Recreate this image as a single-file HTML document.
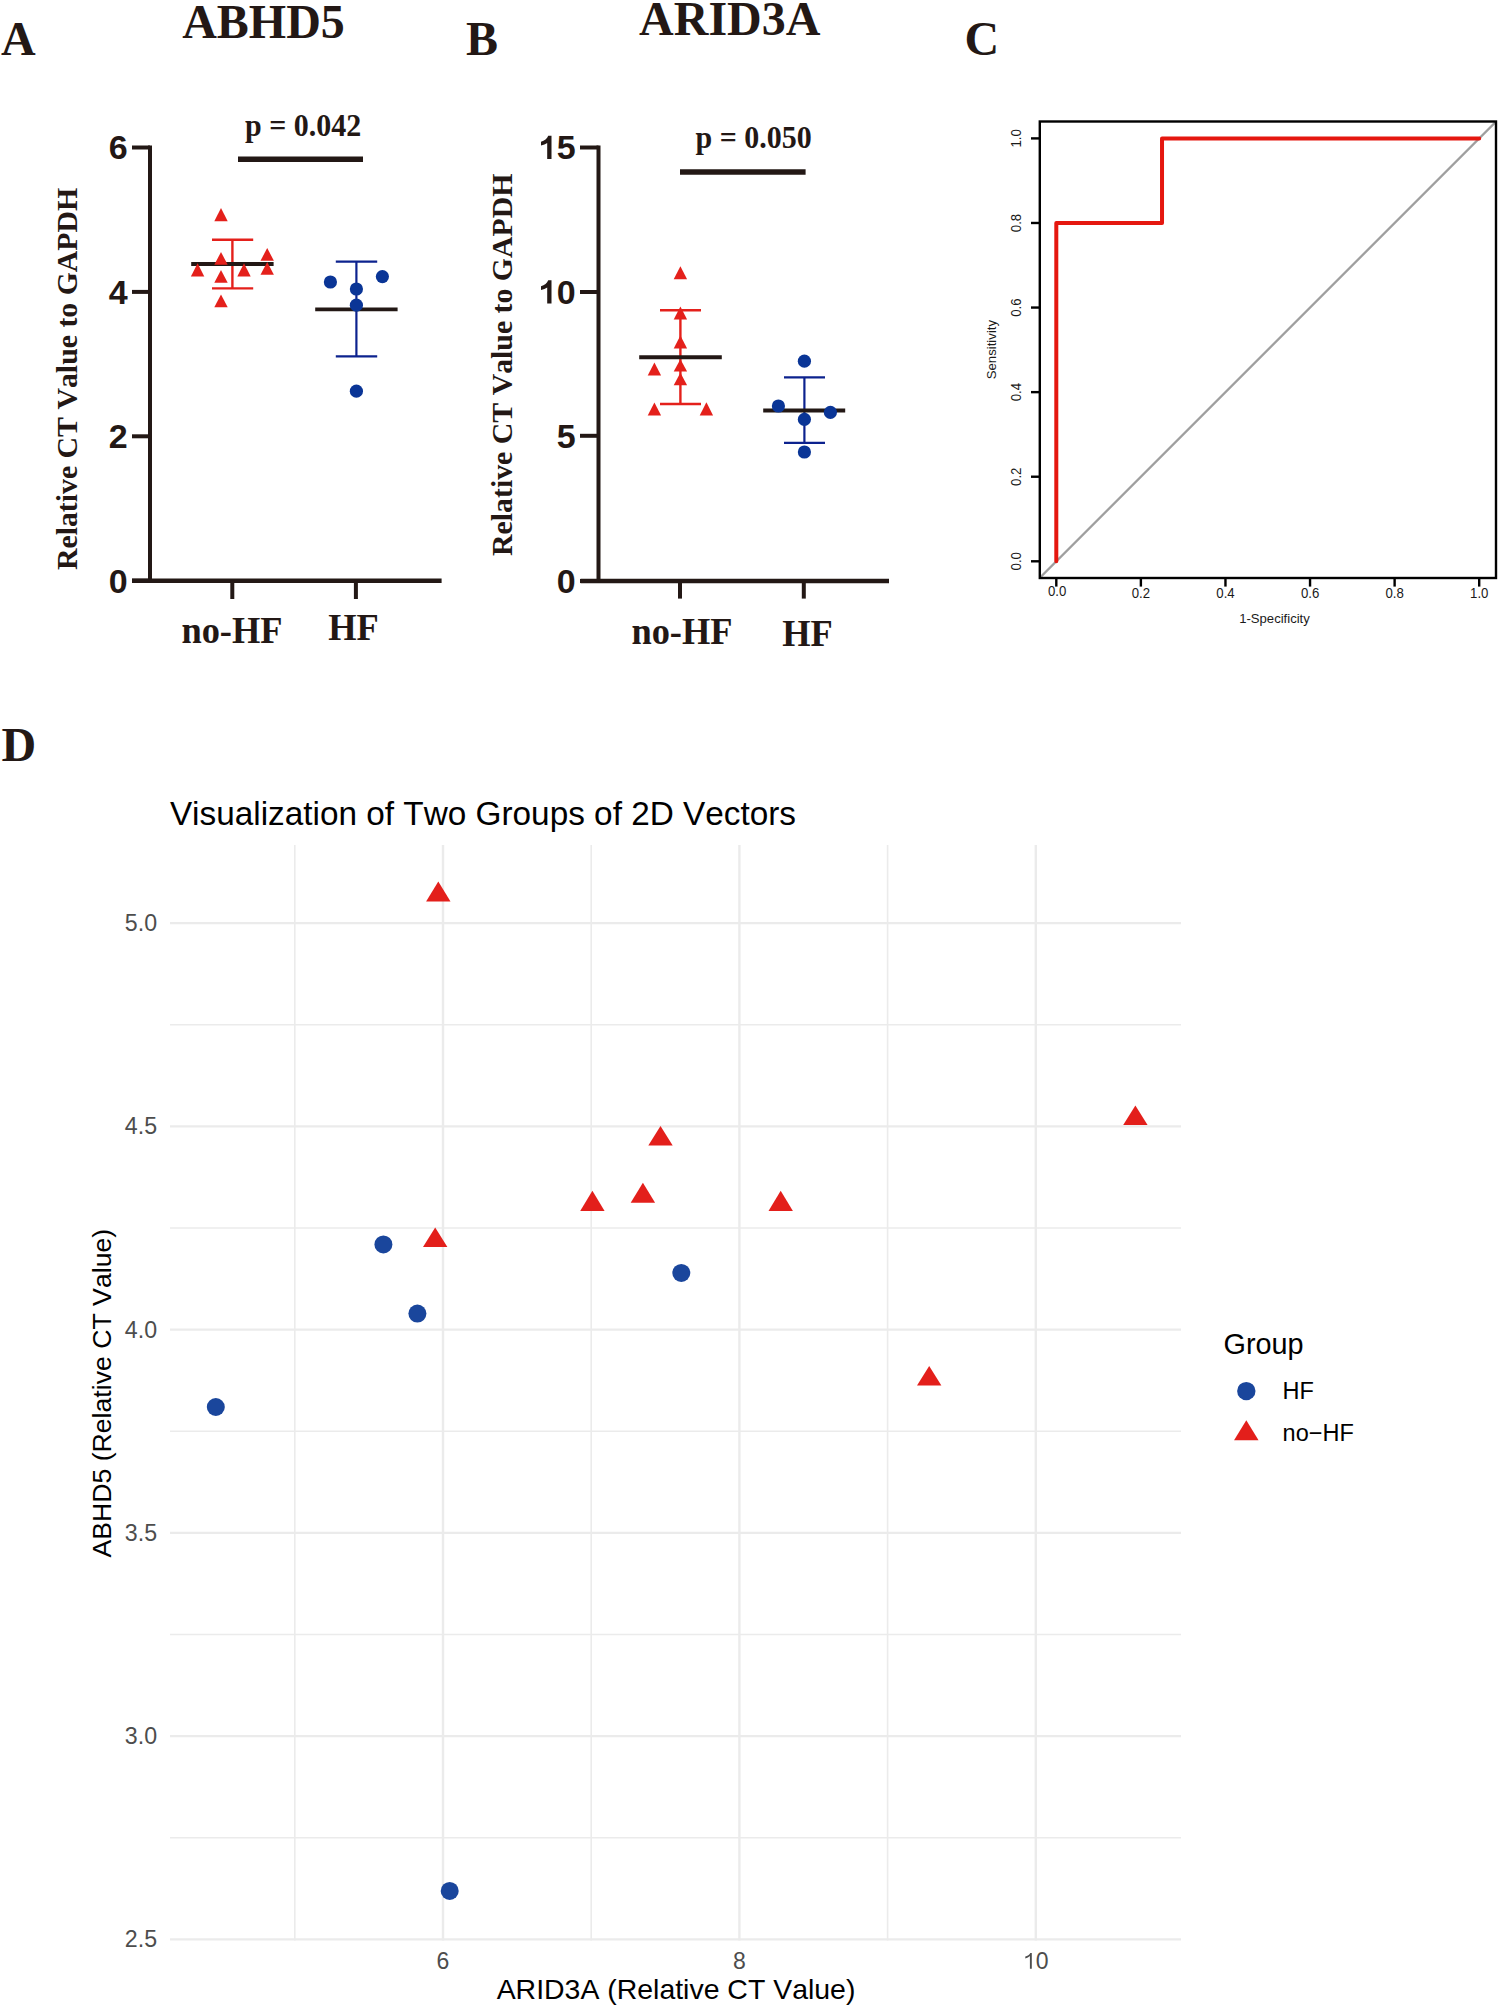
<!DOCTYPE html>
<html><head><meta charset="utf-8"><title>Figure</title>
<style>
html,body{margin:0;padding:0;background:#fff;}
body{width:1500px;height:2008px;overflow:hidden;font-family:"Liberation Sans",sans-serif;}
svg{display:block;}
text{font-kerning:none;}
</style></head>
<body>
<svg width="1500" height="2008" viewBox="0 0 1500 2008">
<rect width="1500" height="2008" fill="#fff"/>
<text x="1.1" y="55" font-family="'Liberation Serif', serif" font-size="48" font-weight="bold" text-anchor="start" fill="#231815">A</text>
<text x="466.1" y="55" font-family="'Liberation Serif', serif" font-size="48" font-weight="bold" text-anchor="start" fill="#231815">B</text>
<text x="964.4" y="55.3" font-family="'Liberation Serif', serif" font-size="48" font-weight="bold" text-anchor="start" fill="#231815">C</text>
<text x="1.6" y="761" font-family="'Liberation Serif', serif" font-size="48" font-weight="bold" text-anchor="start" fill="#231815">D</text>
<text x="182.2" y="37.6" font-family="'Liberation Serif', serif" font-size="48" font-weight="bold" text-anchor="start" fill="#231815">ABHD5</text>
<line x1="150" y1="145.5" x2="150" y2="583" stroke="#231815" stroke-width="4" stroke-linecap="butt"/>
<line x1="132" y1="580.8" x2="441.6" y2="580.8" stroke="#231815" stroke-width="4.4" stroke-linecap="butt"/>
<line x1="132" y1="147.5" x2="150" y2="147.5" stroke="#231815" stroke-width="4" stroke-linecap="butt"/>
<line x1="132" y1="291.9" x2="150" y2="291.9" stroke="#231815" stroke-width="4" stroke-linecap="butt"/>
<line x1="132" y1="436.3" x2="150" y2="436.3" stroke="#231815" stroke-width="4" stroke-linecap="butt"/>
<line x1="132" y1="580.7" x2="150" y2="580.7" stroke="#231815" stroke-width="4" stroke-linecap="butt"/>
<line x1="232.3" y1="580.8" x2="232.3" y2="599" stroke="#231815" stroke-width="4" stroke-linecap="butt"/>
<line x1="355.9" y1="580.8" x2="355.9" y2="599" stroke="#231815" stroke-width="4" stroke-linecap="butt"/>
<text x="127.6" y="159.3" font-family="'Liberation Sans', sans-serif" font-size="34" font-weight="bold" text-anchor="end" fill="#231815">6</text>
<text x="127.6" y="303.7" font-family="'Liberation Sans', sans-serif" font-size="34" font-weight="bold" text-anchor="end" fill="#231815">4</text>
<text x="127.6" y="448.1" font-family="'Liberation Sans', sans-serif" font-size="34" font-weight="bold" text-anchor="end" fill="#231815">2</text>
<text x="127.6" y="592.5" font-family="'Liberation Sans', sans-serif" font-size="34" font-weight="bold" text-anchor="end" fill="#231815">0</text>
<text transform="translate(245.1 135.5) scale(1 1.04)" font-family="'Liberation Serif', serif" font-size="30" font-weight="bold" text-anchor="start" fill="#231815">p = 0.042</text>
<line x1="238" y1="159.3" x2="363" y2="159.3" stroke="#231815" stroke-width="5.5" stroke-linecap="butt"/>
<text transform="translate(181.4 642.5) scale(1 1.03)" font-family="'Liberation Serif', serif" font-size="36.4" font-weight="bold" text-anchor="start" fill="#231815">no-HF</text>
<text transform="translate(328.2 639.8) scale(1 1.03)" font-family="'Liberation Serif', serif" font-size="36.4" font-weight="bold" text-anchor="start" fill="#231815">HF</text>
<text transform="translate(77.2 570.1) rotate(-90)" font-family="'Liberation Serif', serif" font-size="29.8" font-weight="bold" text-anchor="start" fill="#231815">Relative CT Value to GAPDH</text>
<line x1="232.4" y1="239.8" x2="232.4" y2="288.4" stroke="#e4201b" stroke-width="2.4" stroke-linecap="butt"/>
<line x1="212" y1="239.8" x2="253.2" y2="239.8" stroke="#e4201b" stroke-width="2.4" stroke-linecap="butt"/>
<line x1="212" y1="288.4" x2="253.2" y2="288.4" stroke="#e4201b" stroke-width="2.4" stroke-linecap="butt"/>
<line x1="191.2" y1="264" x2="273.6" y2="264" stroke="#231815" stroke-width="4" stroke-linecap="butt"/>
<path d="M221 208L227.7 221.2L214.3 221.2Z" fill="#e4201b"/>
<path d="M221 252L227.7 264.8L214.3 264.8Z" fill="#e4201b"/>
<path d="M197.6 263.2L204.3 276.4L190.9 276.4Z" fill="#e4201b"/>
<path d="M221 270L227.7 282.8L214.3 282.8Z" fill="#e4201b"/>
<path d="M244 263.2L250.7 276.4L237.3 276.4Z" fill="#e4201b"/>
<path d="M267.2 248L273.9 260.8L260.5 260.8Z" fill="#e4201b"/>
<path d="M267.2 262L273.9 274.8L260.5 274.8Z" fill="#e4201b"/>
<path d="M221 294.4L227.7 307.2L214.3 307.2Z" fill="#e4201b"/>
<line x1="356.4" y1="261.6" x2="356.4" y2="356.4" stroke="#0c228e" stroke-width="2.2" stroke-linecap="butt"/>
<line x1="335.8" y1="261.6" x2="377.2" y2="261.6" stroke="#0c228e" stroke-width="2.2" stroke-linecap="butt"/>
<line x1="335.8" y1="356.4" x2="377.2" y2="356.4" stroke="#0c228e" stroke-width="2.2" stroke-linecap="butt"/>
<line x1="315.2" y1="309.3" x2="397.6" y2="309.3" stroke="#231815" stroke-width="3.8" stroke-linecap="butt"/>
<circle cx="330.4" cy="282" r="6.6" fill="#0a3596"/>
<circle cx="356.4" cy="289" r="6.6" fill="#0a3596"/>
<circle cx="356.4" cy="305.2" r="6.6" fill="#0a3596"/>
<circle cx="382.4" cy="276.6" r="6.6" fill="#0a3596"/>
<circle cx="356.4" cy="391.2" r="6.6" fill="#0a3596"/>
<text x="639.1" y="34.6" font-family="'Liberation Serif', serif" font-size="48" font-weight="bold" text-anchor="start" fill="#231815">ARID3A</text>
<line x1="598.5" y1="145.5" x2="598.5" y2="583" stroke="#231815" stroke-width="4" stroke-linecap="butt"/>
<line x1="580.6" y1="581" x2="889" y2="581" stroke="#231815" stroke-width="4.4" stroke-linecap="butt"/>
<line x1="580" y1="147.5" x2="598.5" y2="147.5" stroke="#231815" stroke-width="4" stroke-linecap="butt"/>
<line x1="580" y1="292" x2="598.5" y2="292" stroke="#231815" stroke-width="4" stroke-linecap="butt"/>
<line x1="580" y1="435.8" x2="598.5" y2="435.8" stroke="#231815" stroke-width="4" stroke-linecap="butt"/>
<line x1="580" y1="581" x2="598.5" y2="581" stroke="#231815" stroke-width="4" stroke-linecap="butt"/>
<line x1="680" y1="581" x2="680" y2="598.6" stroke="#231815" stroke-width="4" stroke-linecap="butt"/>
<line x1="803.8" y1="581" x2="803.8" y2="598.6" stroke="#231815" stroke-width="4" stroke-linecap="butt"/>
<text x="575.6" y="159.3" font-family="'Liberation Sans', sans-serif" font-size="34" font-weight="bold" text-anchor="end" fill="#231815">5</text>
<path d="M551.5 159.1V135.7H548.2C547.2 138.5 544.5 140.7 541 141.8V145.5C543.4 144.9 545.6 144 547.2 142.9V159.1Z" fill="#231815"/>
<text x="575.6" y="303.8" font-family="'Liberation Sans', sans-serif" font-size="34" font-weight="bold" text-anchor="end" fill="#231815">0</text>
<path d="M551.5 303.6V280.2H548.2C547.2 283 544.5 285.2 541 286.3V290C543.4 289.4 545.6 288.5 547.2 287.4V303.6Z" fill="#231815"/>
<text x="575.6" y="447.6" font-family="'Liberation Sans', sans-serif" font-size="34" font-weight="bold" text-anchor="end" fill="#231815">5</text>
<text x="575.6" y="592.8" font-family="'Liberation Sans', sans-serif" font-size="34" font-weight="bold" text-anchor="end" fill="#231815">0</text>
<text transform="translate(695.6 148) scale(1 1.04)" font-family="'Liberation Serif', serif" font-size="30" font-weight="bold" text-anchor="start" fill="#231815">p = 0.050</text>
<line x1="680" y1="172" x2="805.6" y2="172" stroke="#231815" stroke-width="5.5" stroke-linecap="butt"/>
<text transform="translate(631.4 644.2) scale(1 1.03)" font-family="'Liberation Serif', serif" font-size="36.4" font-weight="bold" text-anchor="start" fill="#231815">no-HF</text>
<text transform="translate(782.2 646.2) scale(1 1.03)" font-family="'Liberation Serif', serif" font-size="36.4" font-weight="bold" text-anchor="start" fill="#231815">HF</text>
<text transform="translate(511.5 555.9) rotate(-90)" font-family="'Liberation Serif', serif" font-size="29.8" font-weight="bold" text-anchor="start" fill="#231815">Relative CT Value to GAPDH</text>
<line x1="680.4" y1="310.2" x2="680.4" y2="404" stroke="#e4201b" stroke-width="2.4" stroke-linecap="butt"/>
<line x1="660" y1="310.2" x2="701" y2="310.2" stroke="#e4201b" stroke-width="2.4" stroke-linecap="butt"/>
<line x1="660" y1="404" x2="701" y2="404" stroke="#e4201b" stroke-width="2.4" stroke-linecap="butt"/>
<line x1="639.2" y1="357.2" x2="721.8" y2="357.2" stroke="#231815" stroke-width="4" stroke-linecap="butt"/>
<path d="M680.4 266.2L687.1 279.2L673.7 279.2Z" fill="#e4201b"/>
<path d="M680.4 306.4L687.1 319.4L673.7 319.4Z" fill="#e4201b"/>
<path d="M680.4 335.5L687.1 348.4L673.7 348.4Z" fill="#e4201b"/>
<path d="M680.4 359.2L687.1 371.6L673.7 371.6Z" fill="#e4201b"/>
<path d="M654.4 362.4L661.1 375.4L647.7 375.4Z" fill="#e4201b"/>
<path d="M680.4 372.8L687.1 385.2L673.7 385.2Z" fill="#e4201b"/>
<path d="M654.4 402.4L661.1 415.6L647.7 415.6Z" fill="#e4201b"/>
<path d="M706.4 402.2L713.1 415.6L699.7 415.6Z" fill="#e4201b"/>
<line x1="804.4" y1="377.4" x2="804.4" y2="442.8" stroke="#0c228e" stroke-width="2.2" stroke-linecap="butt"/>
<line x1="784" y1="377.4" x2="825" y2="377.4" stroke="#0c228e" stroke-width="2.2" stroke-linecap="butt"/>
<line x1="784" y1="442.8" x2="825" y2="442.8" stroke="#0c228e" stroke-width="2.2" stroke-linecap="butt"/>
<line x1="763.2" y1="410.4" x2="845.2" y2="410.4" stroke="#231815" stroke-width="4" stroke-linecap="butt"/>
<circle cx="804.4" cy="361.2" r="6.6" fill="#0a3596"/>
<circle cx="778.4" cy="406" r="6.6" fill="#0a3596"/>
<circle cx="830.4" cy="412.4" r="6.6" fill="#0a3596"/>
<circle cx="804.4" cy="419.4" r="6.6" fill="#0a3596"/>
<circle cx="804.4" cy="452" r="6.6" fill="#0a3596"/>
<clipPath id="cb"><rect x="1039.8" y="121.5" width="456.2" height="456.5"/></clipPath>
<line x1="1014.01" y1="603.59" x2="1521.49" y2="96.11" stroke="#9f9f9f" stroke-width="2.3" clip-path="url(#cb)"/>
<path d="M1056.3 561.3V222.98H1162.02V138.4H1479.2" fill="none" stroke="#e5170f" stroke-width="4" stroke-linecap="round" stroke-linejoin="round"/>
<rect x="1039.8" y="121.5" width="456.2" height="456.5" fill="none" stroke="#000" stroke-width="2.4"/>
<line x1="1031" y1="561.3" x2="1039.8" y2="561.3" stroke="#000" stroke-width="2.4" stroke-linecap="butt"/>
<line x1="1056.3" y1="578" x2="1056.3" y2="586.6" stroke="#000" stroke-width="2.4" stroke-linecap="butt"/>
<text transform="translate(1057.1 596.4) scale(1 1.07)" font-family="'Liberation Sans', sans-serif" font-size="13.2" font-weight="normal" text-anchor="middle" fill="#1a1a1a">0.0</text>
<text transform="translate(1021.3 561.3) rotate(-90) scale(1 1.07)" font-family="'Liberation Sans', sans-serif" font-size="13.2" text-anchor="middle" fill="#1a1a1a">0.0</text>
<line x1="1031" y1="476.72" x2="1039.8" y2="476.72" stroke="#000" stroke-width="2.4" stroke-linecap="butt"/>
<line x1="1140.88" y1="578" x2="1140.88" y2="586.6" stroke="#000" stroke-width="2.4" stroke-linecap="butt"/>
<text transform="translate(1140.88 598) scale(1 1.07)" font-family="'Liberation Sans', sans-serif" font-size="13.2" font-weight="normal" text-anchor="middle" fill="#1a1a1a">0.2</text>
<text transform="translate(1021.3 476.72) rotate(-90) scale(1 1.07)" font-family="'Liberation Sans', sans-serif" font-size="13.2" text-anchor="middle" fill="#1a1a1a">0.2</text>
<line x1="1031" y1="392.14" x2="1039.8" y2="392.14" stroke="#000" stroke-width="2.4" stroke-linecap="butt"/>
<line x1="1225.46" y1="578" x2="1225.46" y2="586.6" stroke="#000" stroke-width="2.4" stroke-linecap="butt"/>
<text transform="translate(1225.46 598) scale(1 1.07)" font-family="'Liberation Sans', sans-serif" font-size="13.2" font-weight="normal" text-anchor="middle" fill="#1a1a1a">0.4</text>
<text transform="translate(1021.3 392.14) rotate(-90) scale(1 1.07)" font-family="'Liberation Sans', sans-serif" font-size="13.2" text-anchor="middle" fill="#1a1a1a">0.4</text>
<line x1="1031" y1="307.56" x2="1039.8" y2="307.56" stroke="#000" stroke-width="2.4" stroke-linecap="butt"/>
<line x1="1310.04" y1="578" x2="1310.04" y2="586.6" stroke="#000" stroke-width="2.4" stroke-linecap="butt"/>
<text transform="translate(1310.04 598) scale(1 1.07)" font-family="'Liberation Sans', sans-serif" font-size="13.2" font-weight="normal" text-anchor="middle" fill="#1a1a1a">0.6</text>
<text transform="translate(1021.3 307.56) rotate(-90) scale(1 1.07)" font-family="'Liberation Sans', sans-serif" font-size="13.2" text-anchor="middle" fill="#1a1a1a">0.6</text>
<line x1="1031" y1="222.98" x2="1039.8" y2="222.98" stroke="#000" stroke-width="2.4" stroke-linecap="butt"/>
<line x1="1394.62" y1="578" x2="1394.62" y2="586.6" stroke="#000" stroke-width="2.4" stroke-linecap="butt"/>
<text transform="translate(1394.62 598) scale(1 1.07)" font-family="'Liberation Sans', sans-serif" font-size="13.2" font-weight="normal" text-anchor="middle" fill="#1a1a1a">0.8</text>
<text transform="translate(1021.3 222.98) rotate(-90) scale(1 1.07)" font-family="'Liberation Sans', sans-serif" font-size="13.2" text-anchor="middle" fill="#1a1a1a">0.8</text>
<line x1="1031" y1="138.4" x2="1039.8" y2="138.4" stroke="#000" stroke-width="2.4" stroke-linecap="butt"/>
<line x1="1479.2" y1="578" x2="1479.2" y2="586.6" stroke="#000" stroke-width="2.4" stroke-linecap="butt"/>
<text transform="translate(1479.2 598) scale(1 1.07)" font-family="'Liberation Sans', sans-serif" font-size="13.2" font-weight="normal" text-anchor="middle" fill="#1a1a1a">1.0</text>
<text transform="translate(1021.3 138.4) rotate(-90) scale(1 1.07)" font-family="'Liberation Sans', sans-serif" font-size="13.2" text-anchor="middle" fill="#1a1a1a">1.0</text>
<text x="1274.5" y="623.3" font-family="'Liberation Sans', sans-serif" font-size="13.1" font-weight="normal" text-anchor="middle" fill="#1a1a1a">1-Specificity</text>
<text transform="translate(996.4 349.6) rotate(-90)" font-family="'Liberation Sans', sans-serif" font-size="13.2" font-weight="normal" text-anchor="middle" fill="#1a1a1a">Sensitivity</text>
<text x="169.9" y="825" font-family="'Liberation Sans', sans-serif" font-size="33.35" font-weight="normal" text-anchor="start" fill="#000">Visualization of Two Groups of 2D Vectors</text>
<line x1="294.8" y1="845" x2="294.8" y2="1940.5" stroke="#ebebeb" stroke-width="1.6" stroke-linecap="butt"/>
<line x1="591.2" y1="845" x2="591.2" y2="1940.5" stroke="#ebebeb" stroke-width="1.6" stroke-linecap="butt"/>
<line x1="887.6" y1="845" x2="887.6" y2="1940.5" stroke="#ebebeb" stroke-width="1.6" stroke-linecap="butt"/>
<line x1="170" y1="1837.72" x2="1181" y2="1837.72" stroke="#ebebeb" stroke-width="1.6" stroke-linecap="butt"/>
<line x1="170" y1="1634.47" x2="1181" y2="1634.47" stroke="#ebebeb" stroke-width="1.6" stroke-linecap="butt"/>
<line x1="170" y1="1431.22" x2="1181" y2="1431.22" stroke="#ebebeb" stroke-width="1.6" stroke-linecap="butt"/>
<line x1="170" y1="1227.97" x2="1181" y2="1227.97" stroke="#ebebeb" stroke-width="1.6" stroke-linecap="butt"/>
<line x1="170" y1="1024.72" x2="1181" y2="1024.72" stroke="#ebebeb" stroke-width="1.6" stroke-linecap="butt"/>
<line x1="443" y1="845" x2="443" y2="1940.5" stroke="#ebebeb" stroke-width="2.4" stroke-linecap="butt"/>
<line x1="739.4" y1="845" x2="739.4" y2="1940.5" stroke="#ebebeb" stroke-width="2.4" stroke-linecap="butt"/>
<line x1="1035.8" y1="845" x2="1035.8" y2="1940.5" stroke="#ebebeb" stroke-width="2.4" stroke-linecap="butt"/>
<line x1="170" y1="1939.35" x2="1181" y2="1939.35" stroke="#ebebeb" stroke-width="2.4" stroke-linecap="butt"/>
<line x1="170" y1="1736.1" x2="1181" y2="1736.1" stroke="#ebebeb" stroke-width="2.4" stroke-linecap="butt"/>
<line x1="170" y1="1532.85" x2="1181" y2="1532.85" stroke="#ebebeb" stroke-width="2.4" stroke-linecap="butt"/>
<line x1="170" y1="1329.6" x2="1181" y2="1329.6" stroke="#ebebeb" stroke-width="2.4" stroke-linecap="butt"/>
<line x1="170" y1="1126.35" x2="1181" y2="1126.35" stroke="#ebebeb" stroke-width="2.4" stroke-linecap="butt"/>
<line x1="170" y1="923.1" x2="1181" y2="923.1" stroke="#ebebeb" stroke-width="2.4" stroke-linecap="butt"/>
<text x="157.1" y="1947.45" font-family="'Liberation Sans', sans-serif" font-size="23.2" font-weight="normal" text-anchor="end" fill="#4d4d4d">2.5</text>
<text x="157.1" y="1744.2" font-family="'Liberation Sans', sans-serif" font-size="23.2" font-weight="normal" text-anchor="end" fill="#4d4d4d">3.0</text>
<text x="157.1" y="1540.95" font-family="'Liberation Sans', sans-serif" font-size="23.2" font-weight="normal" text-anchor="end" fill="#4d4d4d">3.5</text>
<text x="157.1" y="1337.7" font-family="'Liberation Sans', sans-serif" font-size="23.2" font-weight="normal" text-anchor="end" fill="#4d4d4d">4.0</text>
<text x="157.1" y="1134.45" font-family="'Liberation Sans', sans-serif" font-size="23.2" font-weight="normal" text-anchor="end" fill="#4d4d4d">4.5</text>
<text x="157.1" y="931.2" font-family="'Liberation Sans', sans-serif" font-size="23.2" font-weight="normal" text-anchor="end" fill="#4d4d4d">5.0</text>
<text x="443" y="1968.8" font-family="'Liberation Sans', sans-serif" font-size="23" font-weight="normal" text-anchor="middle" fill="#4d4d4d">6</text>
<text x="739.4" y="1968.8" font-family="'Liberation Sans', sans-serif" font-size="23" font-weight="normal" text-anchor="middle" fill="#4d4d4d">8</text>
<text x="1035.8" y="1968.8" font-family="'Liberation Sans', sans-serif" font-size="23" font-weight="normal" text-anchor="start" fill="#4d4d4d">0</text>
<path d="M1031.8 1968.7V1952.9H1030.3C1029.5 1954.6 1027.6 1955.9 1025.3 1956.6V1958.4C1027.2 1957.9 1028.8 1957 1029.9 1956V1968.7Z" fill="#4d4d4d"/>
<text x="676" y="1999.3" font-family="'Liberation Sans', sans-serif" font-size="28.45" font-weight="normal" text-anchor="middle" fill="#000">ARID3A (Relative CT Value)</text>
<text transform="translate(111.2 1393.2) rotate(-90)" font-family="'Liberation Sans', sans-serif" font-size="26.65" font-weight="normal" text-anchor="middle" fill="#000">ABHD5 (Relative CT Value)</text>
<circle cx="383.4" cy="1244.4" r="9" fill="#1a469c"/>
<circle cx="417.4" cy="1313.6" r="9" fill="#1a469c"/>
<circle cx="215.8" cy="1407" r="9" fill="#1a469c"/>
<circle cx="681.3" cy="1272.9" r="9" fill="#1a469c"/>
<circle cx="449.7" cy="1890.9" r="9" fill="#1a469c"/>
<path d="M438.3 881.6L450.5 901.6L426.1 901.6Z" fill="#e31f1b"/>
<path d="M660.5 1125.9L672.7 1145.5L648.3 1145.5Z" fill="#e31f1b"/>
<path d="M642.9 1182.8L655.1 1202.7L630.7 1202.7Z" fill="#e31f1b"/>
<path d="M592.4 1190.8L604.6 1210.9L580.2 1210.9Z" fill="#e31f1b"/>
<path d="M780.7 1190.8L792.9 1210.9L768.5 1210.9Z" fill="#e31f1b"/>
<path d="M435.2 1227.6L447.4 1247L423 1247Z" fill="#e31f1b"/>
<path d="M1135.4 1105.6L1147.6 1125L1123.2 1125Z" fill="#e31f1b"/>
<path d="M929.2 1366L941.4 1385.4L917 1385.4Z" fill="#e31f1b"/>
<text x="1223.5" y="1353.9" font-family="'Liberation Sans', sans-serif" font-size="28.8" font-weight="normal" text-anchor="start" fill="#000">Group</text>
<circle cx="1246.3" cy="1391.1" r="9.2" fill="#1a469c"/>
<text x="1282.6" y="1399.1" font-family="'Liberation Sans', sans-serif" font-size="23.5" font-weight="normal" text-anchor="start" fill="#000">HF</text>
<path d="M1246.3 1420.3L1258.55 1440.2L1234.05 1440.2Z" fill="#e31f1b"/>
<text x="1282.6" y="1441.4" font-family="'Liberation Sans', sans-serif" font-size="23.5" font-weight="normal" text-anchor="start" fill="#000">no−HF</text>
</svg>
</body></html>
